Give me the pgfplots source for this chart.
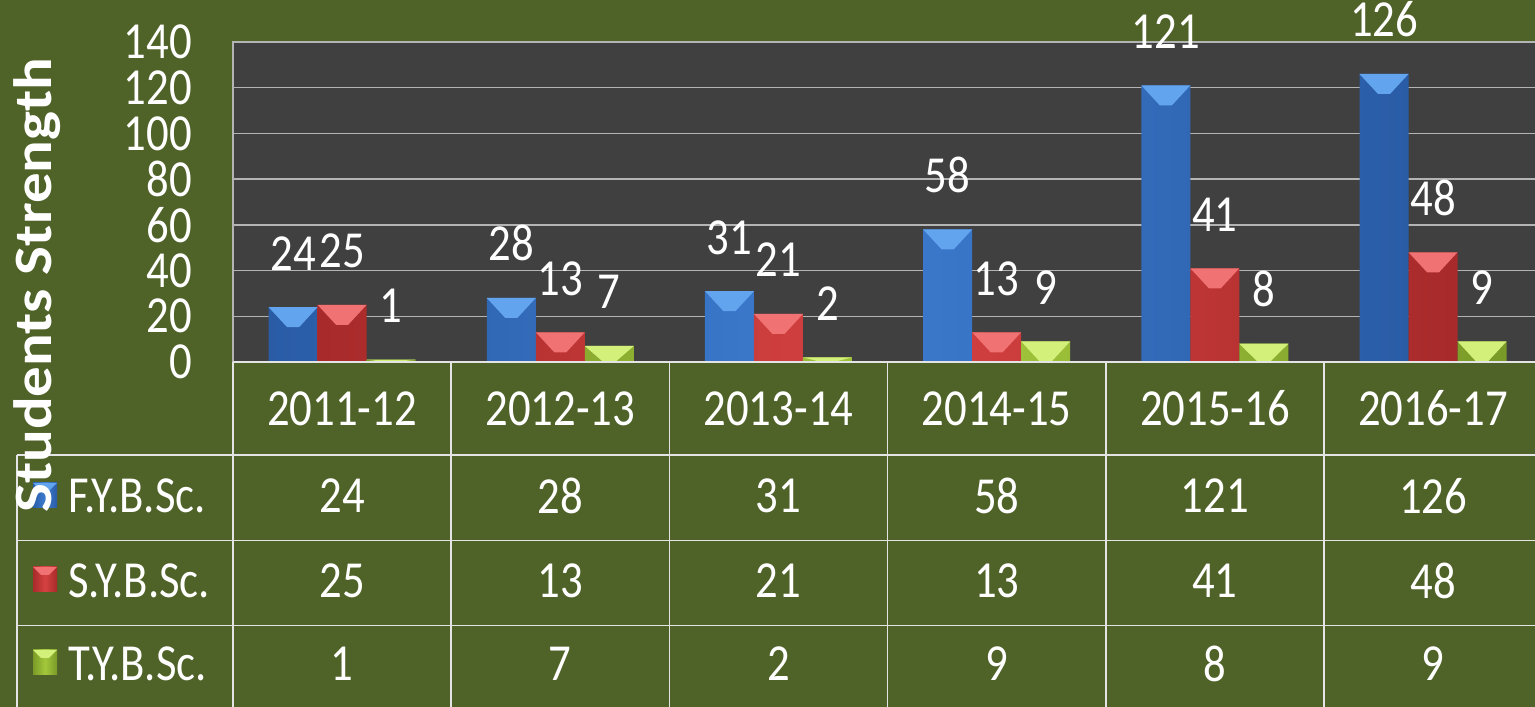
\documentclass[border=0pt]{standalone}
\usepackage{pgfplots}
\pgfplotsset{compat=1.18}
\usepackage{fontspec}
\setmainfont{Carlito}[FakeStretch=0.86]
\newfontfamily\ylabfont{Carlito}[FakeStretch=1.13]
\definecolor{bg}{HTML}{4F6228}
\definecolor{plotbg}{HTML}{404040}
\definecolor{gridc}{HTML}{B4B4B4}
\definecolor{linec}{HTML}{E4E4E4}
\definecolor{blueD}{HTML}{2A5CA6}
\definecolor{blueM}{HTML}{3D7CD0}
\definecolor{blueL}{HTML}{62A4EE}
\definecolor{redD}{HTML}{A82A2A}
\definecolor{redM}{HTML}{D64242}
\definecolor{redL}{HTML}{F07272}
\definecolor{greenD}{HTML}{7A9A28}
\definecolor{greenM}{HTML}{A4C83C}
\definecolor{greenL}{HTML}{D2F07A}
\newcommand{\fs}{\fontsize{52}{56}\selectfont}
\pgfdeclareplotmark{bevelL}{\pgfmathsetmacro\bevd{min(20,\yval*2.2857)}%
  \pgfpathmoveto{\pgfqpoint{-73.5pt}{0pt}}\pgfpathlineto{\pgfqpoint{-24.5pt}{0pt}}%
  \pgfpathlineto{\pgfqpoint{-43pt}{-\bevd pt}}\pgfpathlineto{\pgfqpoint{-55pt}{-\bevd pt}}%
  \pgfpathclose\pgfusepathqfill}
\pgfdeclareplotmark{bevelC}{\pgfmathsetmacro\bevd{min(20,\yval*2.2857)}%
  \pgfpathmoveto{\pgfqpoint{-24.5pt}{0pt}}\pgfpathlineto{\pgfqpoint{24.5pt}{0pt}}%
  \pgfpathlineto{\pgfqpoint{6pt}{-\bevd pt}}\pgfpathlineto{\pgfqpoint{-6pt}{-\bevd pt}}%
  \pgfpathclose\pgfusepathqfill}
\pgfdeclareplotmark{bevelR}{\pgfmathsetmacro\bevd{min(20,\yval*2.2857)}%
  \pgfpathmoveto{\pgfqpoint{24.5pt}{0pt}}\pgfpathlineto{\pgfqpoint{73.5pt}{0pt}}%
  \pgfpathlineto{\pgfqpoint{55pt}{-\bevd pt}}\pgfpathlineto{\pgfqpoint{43pt}{-\bevd pt}}%
  \pgfpathclose\pgfusepathqfill}
\pgfplotsset{
  barsty/.style n args={3}{ybar, bar width=49pt, bar shift=#1, draw=none,
    shading=axis, left color=#2, right color=#2, middle color=#3,
    nodes near coords, every node near coord/.append style={xshift=#1}},
  bevsty/.style n args={2}{scatter, only marks, mark=#1,
    visualization depends on={y \as \yval},
    scatter/@pre marker code/.code={\scope[fill=#2, draw=none]},
    scatter/@post marker code/.code={\endscope}},
}
\begin{document}
\begin{tikzpicture}
\fill[bg] (0pt,0pt) rectangle (1535pt,707pt);
\useasboundingbox (0pt,0pt) rectangle (1535pt,707pt);
\begin{axis}[
  at={(233pt,345pt)}, anchor=south west,
  scale only axis, width=1309.2pt, height=320pt,
  xmin=-0.5, xmax=5.5, ymin=0, ymax=140,
  clip=false,
  axis background/.style={fill=plotbg},
  axis line style={draw=gridc, line width=1.5pt},
  ymajorgrids, grid style={draw=gridc, line width=1.5pt},
  ytick={0,20,...,140},
  xtick={0,...,5},
  xticklabels={2011-12,2012-13,2013-14,2014-15,2015-16,2016-17},
  major tick length=0pt, tick style={draw=none},
  /pgf/number format/assume math mode=true,
  xticklabel style={font=\fs, text=white, anchor=center, inner sep=0pt, yshift=-46.5pt},
  yticklabel style={font=\fs, text=white, anchor=east, inner sep=0pt, xshift=-41pt},
  nodes near coords style={font=\fs, text=white, anchor=base, inner sep=0pt, yshift=37pt},
]
\addplot[barsty={-49pt}{blueD}{blueM}] coordinates {(0,24) (1,28) (2,31) (3,58) (4,121) (5,126)};
\addplot[barsty={0pt}{redD}{redM}] coordinates {(0,25) (1,13) (2,21) (3,13) (4,41) (5,48)};
\addplot[barsty={49pt}{greenD}{greenM}] coordinates {(0,1) (1,7) (2,2) (3,9) (4,8) (5,9)};
\addplot[bevsty={bevelL}{blueL}] coordinates {(0,24) (1,28) (2,31) (3,58) (4,121) (5,126)};
\addplot[bevsty={bevelC}{redL}] coordinates {(0,25) (1,13) (2,21) (3,13) (4,41) (5,48)};
\addplot[bevsty={bevelR}{greenL}] coordinates {(0,1) (1,7) (2,2) (3,9) (4,8) (5,9)};
\end{axis}
% table grid
\begin{scope}[draw=linec, line width=1.5pt]
\draw (233pt,345pt) -- (1535pt,345pt);
\foreach \yy in {252,166.5,81.5} \draw (17pt,\yy pt) -- (1535pt,\yy pt);
\draw (17pt,0pt) -- (17pt,252pt);
\foreach \k in {0,...,5} \draw ({(233+218.2*\k)*1pt},0pt) -- ({(233+218.2*\k)*1pt},345pt);
\end{scope}
% table rows
\begin{scope}[every node/.style={font=\fs, text=white, inner sep=0pt}]
\foreach \v [count=\i from 0] in {24,28,31,58,121,126} \node at ({(342.1+218.2*\i)*1pt},211pt) {\v};
\foreach \v [count=\i from 0] in {25,13,21,13,41,48} \node at ({(342.1+218.2*\i)*1pt},126pt) {\v};
\foreach \v [count=\i from 0] in {1,7,2,9,8,9} \node at ({(342.1+218.2*\i)*1pt},43pt) {\v};
\node[anchor=west] at (68pt,211pt) {F.Y.B.Sc.};
\node[anchor=west] at (68pt,126pt) {S.Y.B.Sc.};
\node[anchor=west] at (68pt,43pt) {T.Y.B.Sc.};
\end{scope}
% legend keys
\path[shading=axis, left color=blueD, right color=blueD, middle color=blueM] (33pt,199pt) rectangle (57pt,224pt);
\fill[blueL] (33pt,224pt) -- (57pt,224pt) -- (49pt,216pt) -- (41pt,216pt) -- cycle;
\path[shading=axis, left color=redD, right color=redD, middle color=redM] (33pt,115pt) rectangle (57pt,140pt);
\fill[redL] (33pt,140pt) -- (57pt,140pt) -- (49pt,132pt) -- (41pt,132pt) -- cycle;
\path[shading=axis, left color=greenD, right color=greenD, middle color=greenM] (33pt,32pt) rectangle (57pt,57pt);
\fill[greenL] (33pt,57pt) -- (57pt,57pt) -- (49pt,49pt) -- (41pt,49pt) -- cycle;
\node[rotate=90, font={\ylabfont\bfseries\fontsize{54}{58}\selectfont}, text=white, inner sep=0pt] at (37pt,421.5pt) {Students Strength};
\end{tikzpicture}
\end{document}
